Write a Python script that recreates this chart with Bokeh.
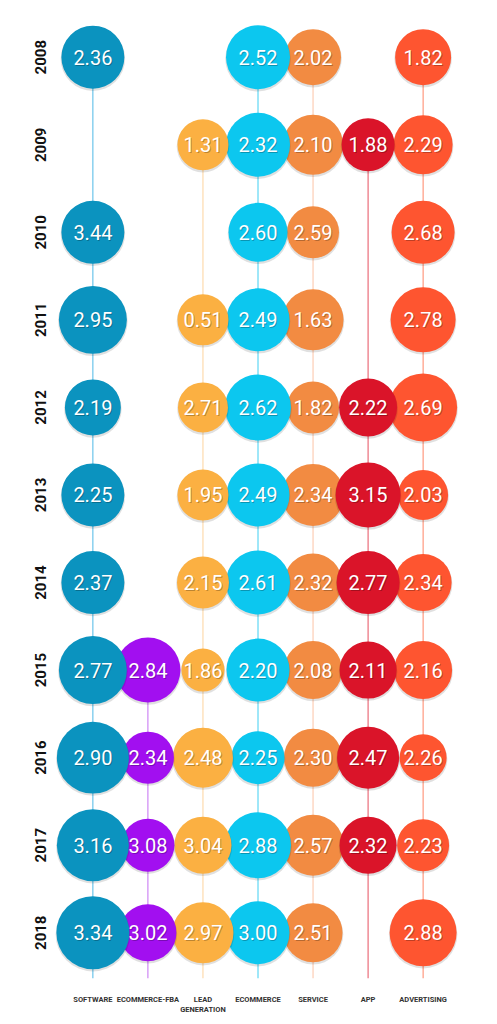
from bokeh.plotting import figure
from bokeh.models import (ColumnDataSource, Range1d, FactorRange, FixedTicker,
                          CategoricalAxis, CustomJSTickFormatter)
from bokeh.embed import file_html
from bokeh.resources import INLINE
from bokeh.core.properties import value

# ---------------- data ----------------
years = [2008, 2009, 2010, 2011, 2012, 2013, 2014, 2015, 2016, 2017, 2018]
categories = ["SOFTWARE", "ECOMMERCE-FBA", "LEAD GENERATION", "ECOMMERCE",
              "SERVICE", "APP", "ADVERTISING"]
# tick labels, first and second line
tick_line1 = ["SOFTWARE", "ECOMMERCE-FBA", "LEAD", "ECOMMERCE",
              "SERVICE", "APP", "ADVERTISING"]
tick_line2 = ["", "", "GENERATION", "", "", "", ""]

software      = [2.36, None, 3.44, 2.95, 2.19, 2.25, 2.37, 2.77, 2.90, 3.16, 3.34]
ecommerce_fba = [None, None, None, None, None, None, None, 2.84, 2.34, 3.08, 3.02]
lead_gen      = [None, 1.31, None, 0.51, 2.71, 1.95, 2.15, 1.86, 2.48, 3.04, 2.97]
ecommerce     = [2.52, 2.32, 2.60, 2.49, 2.62, 2.49, 2.61, 2.20, 2.25, 2.88, 3.00]
service       = [2.02, 2.10, 2.59, 1.63, 1.82, 2.34, 2.32, 2.08, 2.30, 2.57, 2.51]
app           = [None, 1.88, None, None, 2.22, 3.15, 2.77, 2.11, 2.47, 2.32, None]
advertising   = [1.82, 2.29, 2.68, 2.78, 2.69, 2.03, 2.34, 2.16, 2.26, 2.23, 2.88]

# relative bubble weight (second measure)
w_software      = [63, None, 63, 68, 56, 63, 63, 68, 72, 72, 73]
w_ecommerce_fba = [None, None, None, None, None, None, None, 65, 52, 53, 57]
w_lead_gen      = [None, 51, None, 51, 50, 51, 52, 43, 60, 57, 61]
w_ecommerce     = [64, 64, 59, 63, 66, 63, 64, 63, 53, 66, 63]
w_service       = [56, 60, 52, 61, 52, 62, 58, 58, 58, 61, 59]
w_app           = [None, 53, None, None, 58, 65, 63, 57, 62, 57, None]
w_advertising   = [56, 59, 63, 65, 68, 50, 57, 58, 47, 52, 67]

series = {
    "SOFTWARE": (software, w_software),
    "ECOMMERCE-FBA": (ecommerce_fba, w_ecommerce_fba),
    "LEAD GENERATION": (lead_gen, w_lead_gen),
    "ECOMMERCE": (ecommerce, w_ecommerce),
    "SERVICE": (service, w_service),
    "APP": (app, w_app),
    "ADVERTISING": (advertising, w_advertising),
}

# ---------------- styles ----------------
fill_colors = {
    "SOFTWARE": "#0b93bf",
    "ECOMMERCE-FBA": "#a20ff0",
    "LEAD GENERATION": "#fbb042",
    "ECOMMERCE": "#0cc7ef",
    "SERVICE": "#f28b42",
    "APP": "#da1429",
    "ADVERTISING": "#fe5530",
}
line_colors = {
    "SOFTWARE": "#4db8e6",
    "ECOMMERCE-FBA": "#c46ef2",
    "LEAD GENERATION": "#fdd39c",
    "ECOMMERCE": "#3fcff2",
    "SERVICE": "#fcc4a6",
    "APP": "#e6505f",
    "ADVERTISING": "#ff8566",
}
draw_order = ["ADVERTISING", "SERVICE", "ECOMMERCE", "LEAD GENERATION",
              "ECOMMERCE-FBA", "SOFTWARE", "APP"]
SIZE_SCALE = 1.0
PX_PER_YEAR = 88.0
Y_TOP = years[0] - 57 / PX_PER_YEAR
Y_BOTTOM = years[-1] + 46 / PX_PER_YEAR

p = figure(width=490, height=1016,
           x_range=FactorRange(factors=categories, range_padding=0.27,
                               range_padding_units="absolute"),
           y_range=Range1d(start=Y_BOTTOM, end=Y_TOP),
           output_backend="svg", toolbar_location=None,
           min_border_left=50, min_border_right=25,
           min_border_top=0, min_border_bottom=33)
p.outline_line_color = None
p.grid.visible = False
p.background_fill_color = "white"

# vertical guide lines: from first bubble down to the bottom of the chart
for cat in categories:
    vals = series[cat][0]
    first = next(y for y, v in zip(years, vals) if v is not None)
    p.segment(x0=[cat], y0=[first], x1=[cat], y1=[Y_BOTTOM],
              line_color=line_colors[cat], line_width=1)

# bubbles
for cat in draw_order:
    vals, weights = series[cat]
    xs, ys, sz, labels = [], [], [], []
    for y, v, w in zip(years, vals, weights):
        if v is None:
            continue
        xs.append(cat)
        ys.append(y)
        sz.append(w * SIZE_SCALE)
        labels.append(f"{v:.2f}")
    src = ColumnDataSource(dict(x=xs, y=ys, s=sz, t=labels,
                                ys=[y + 1.5 / PX_PER_YEAR for y in ys],
                                ss=[s + 1.5 for s in sz]))
    p.scatter(x="x", y="ys", size="ss", source=src, marker="circle",
              fill_color="black", fill_alpha=0.12, line_color=None)
    p.scatter(x="x", y="y", size="s", source=src, marker="circle",
              fill_color=fill_colors[cat], line_color=None)
    p.text(x="x", y="y", text="t", source=src, x_offset=1, y_offset=1,
           text_align="center", text_baseline="middle",
           text_font=value("Roboto"), text_font_size="20px",
           text_color="black", text_alpha=0.25)
    p.text(x="x", y="y", text="t", source=src,
           text_align="center", text_baseline="middle",
           text_font=value("Roboto"), text_font_size="20px",
           text_color="white")

# y axis (years, rotated)
p.yaxis.ticker = FixedTicker(ticks=years)
p.yaxis.major_label_overrides = {y: str(y) for y in years}
p.yaxis.major_label_orientation = "vertical"
p.yaxis.axis_line_color = None
p.yaxis.major_tick_line_color = None
p.yaxis.minor_tick_line_color = None
p.yaxis.major_tick_out = 0
p.yaxis.major_tick_in = 0
p.yaxis.major_label_text_font = "Roboto"
p.yaxis.major_label_text_font_size = "15px"
p.yaxis.major_label_text_font_style = "bold"
p.yaxis.major_label_text_color = "#111111"
p.yaxis.major_label_standoff = 4


def style_xaxis(ax, labels, standoff):
    ax.formatter = CustomJSTickFormatter(
        args=dict(names=categories, labels=labels),
        code="const i = names.indexOf(tick); return i >= 0 ? labels[i] : '';")
    ax.axis_line_color = None
    ax.major_tick_line_color = None
    ax.minor_tick_line_color = None
    ax.major_tick_out = 0
    ax.major_tick_in = 0
    ax.major_label_text_font = "Roboto"
    ax.major_label_text_font_size = "7.5px"
    ax.major_label_text_font_style = "bold"
    ax.major_label_text_color = "#333333"
    ax.major_label_standoff = standoff


style_xaxis(p.xaxis[0], tick_line1, 16)
ax2 = CategoricalAxis()
style_xaxis(ax2, tick_line2, -2)
p.add_layout(ax2, "below")

open("out.html", "w").write(file_html(p, INLINE))
